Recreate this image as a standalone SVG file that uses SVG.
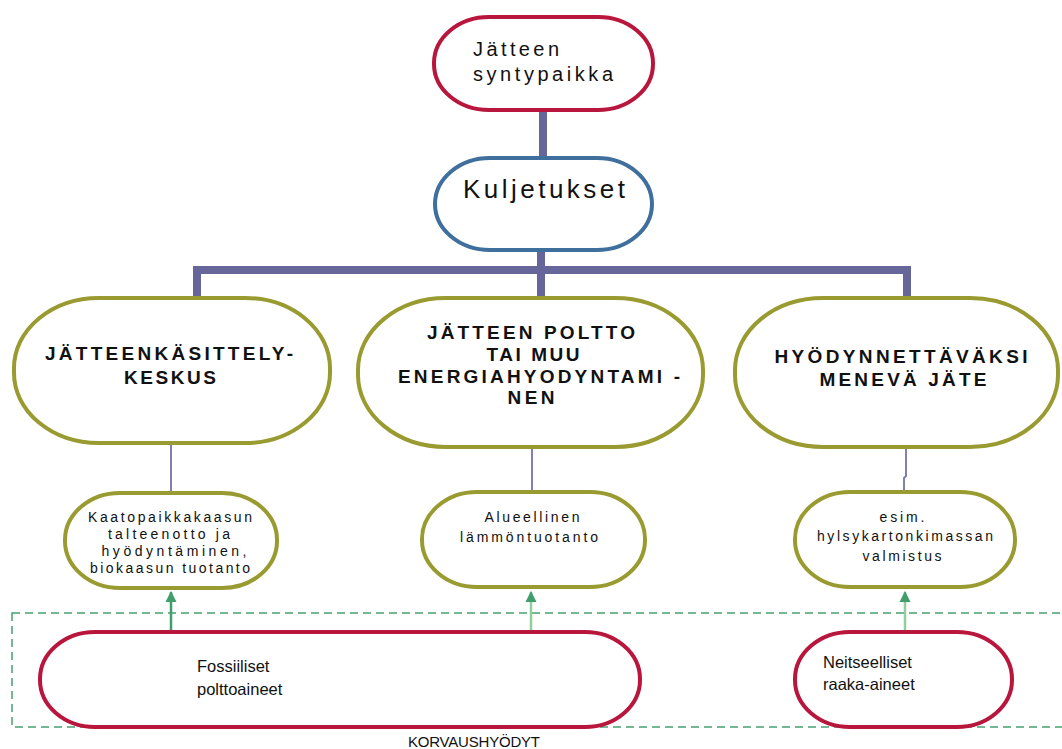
<svg xmlns="http://www.w3.org/2000/svg" width="1062" height="749" viewBox="0 0 1062 749">
<style>
  .red{fill:#fff;stroke:#b8163c;stroke-width:4}
  .blue{fill:#fff;stroke:#3f6f9c;stroke-width:4}
  .olive{fill:#fff;stroke:#999a30;stroke-width:4}
  .thick{stroke:#66669a;stroke-width:8;fill:none}
  .thin{stroke:#8080b4;stroke-width:2;fill:none}
  .arr{stroke:#3f9e6c;stroke-width:2.5;fill:none}
  .arrL{stroke:#8fcf9f;stroke-width:2.5;fill:none}
  .t{font-family:"Liberation Sans",Arial,sans-serif;fill:#111}
  .b{font-family:"Liberation Sans",Arial,sans-serif;font-weight:bold;fill:#111;font-size:19px;text-anchor:middle}
  .s{font-family:"Liberation Sans",Arial,sans-serif;fill:#111;font-size:14px;text-anchor:middle}
</style>
<defs>
  <marker id="ah" viewBox="0 0 10 10" refX="9" refY="5" markerWidth="11" markerHeight="12" markerUnits="userSpaceOnUse" orient="auto">
    <path d="M0,0 L10,5 L0,10 z" fill="#3f9e6c"/>
  </marker>
</defs>

<rect x="12" y="613" width="1060" height="114" fill="none" stroke="#4aa070" stroke-width="1.5" stroke-dasharray="8,5"/>

<g id="connectors">
  <line class="thick" x1="543" y1="110" x2="543" y2="160"/>
  <line class="thick" x1="541" y1="248" x2="541" y2="298"/>
  <polyline class="thick" points="197,298 197,270 907,270 907,298"/>
  <line class="thin" x1="171" y1="443" x2="171" y2="494"/>
  <line class="thin" x1="532" y1="447" x2="532" y2="493"/>
  <polyline class="thin" points="906,447 906,476 904,478 904,493"/>
  <line class="arr" x1="171" y1="632" x2="171" y2="592" marker-end="url(#ah)"/>
  <line class="arrL" x1="531" y1="632" x2="531" y2="592" marker-end="url(#ah)"/>
  <line class="arrL" x1="905" y1="632" x2="905" y2="592" marker-end="url(#ah)"/>
</g>

<g id="n-syntypaikka">
  <rect class="red" x="434" y="17" width="219" height="93" rx="55" ry="46"/>
  <text class="t" x="473" y="56" font-size="20" textLength="86" lengthAdjust="spacing">Jätteen</text>
  <text class="t" x="473" y="81" font-size="20" textLength="140" lengthAdjust="spacing">syntypaikka</text>
</g>

<g id="n-kuljetukset">
  <rect class="blue" x="435" y="158" width="217" height="92" rx="55" ry="46"/>
  <text class="t" x="463" y="198" font-size="26" textLength="162" lengthAdjust="spacing">Kuljetukset</text>
</g>

<g id="n-kasittely">
  <rect class="olive" x="14" y="298" width="316" height="145" rx="85" ry="70"/>
  <text class="b" x="169" y="360" textLength="248" lengthAdjust="spacing">JÄTTEENKÄSITTELY-</text>
  <text class="b" x="170" y="384" textLength="92" lengthAdjust="spacing">KESKUS</text>
</g>

<g id="n-poltto">
  <rect class="olive" x="358" y="298" width="345" height="149" rx="88" ry="72"/>
  <text class="b" x="531" y="339" textLength="208" lengthAdjust="spacing">JÄTTEEN POLTTO</text>
  <text class="b" x="533" y="361" textLength="93" lengthAdjust="spacing">TAI MUU</text>
  <text class="b" x="539" y="383" textLength="282" lengthAdjust="spacing">ENERGIAHYODYNTAMI -</text>
  <text class="b" x="531" y="404" textLength="47" lengthAdjust="spacing">NEN</text>
</g>

<g id="n-hyodynnettavaksi">
  <rect class="olive" x="735" y="298" width="323" height="149" rx="88" ry="72"/>
  <text class="b" x="901" y="363" textLength="253" lengthAdjust="spacing">HYÖDYNNETTÄVÄKSI</text>
  <text class="b" x="903" y="386" textLength="167" lengthAdjust="spacing">MENEVÄ JÄTE</text>
</g>

<g id="n-kaatopaikka">
  <rect class="olive" x="65" y="493" width="212" height="95" rx="55" ry="47"/>
  <text class="s" x="170" y="522" textLength="164" lengthAdjust="spacing">Kaatopaikkakaasun</text>
  <text class="s" x="169" y="539" textLength="122" lengthAdjust="spacing">talteenotto ja</text>
  <text class="s" x="174" y="556" textLength="145" lengthAdjust="spacing">hyödyntäminen,</text>
  <text class="s" x="170" y="573" textLength="160" lengthAdjust="spacing">biokaasun tuotanto</text>
</g>

<g id="n-lammontuotanto">
  <rect class="olive" x="422" y="492" width="223" height="95" rx="55" ry="47"/>
  <text class="s" x="532" y="522" textLength="95" lengthAdjust="spacing">Alueellinen</text>
  <text class="s" x="529" y="542" textLength="138" lengthAdjust="spacing">lämmöntuotanto</text>
</g>

<g id="n-hylsykartonki">
  <rect class="olive" x="795" y="492" width="220" height="95" rx="55" ry="47"/>
  <text class="s" x="902" y="522" textLength="45" lengthAdjust="spacing">esim.</text>
  <text class="s" x="905" y="541" textLength="176" lengthAdjust="spacing">hylsykartonkimassan</text>
  <text class="s" x="902" y="561" textLength="79" lengthAdjust="spacing">valmistus</text>
</g>

<g id="n-fossiiliset">
  <rect class="red" x="40" y="632" width="600" height="95" rx="55" ry="47"/>
  <text class="t" x="197" y="672" font-size="16.5">Fossiiliset</text>
  <text class="t" x="197" y="695" font-size="16.5">polttoaineet</text>
</g>

<g id="n-neitseelliset">
  <rect class="red" x="795" y="632" width="217" height="95" rx="55" ry="47"/>
  <text class="t" x="823" y="668" font-size="16.5">Neitseelliset</text>
  <text class="t" x="823" y="690" font-size="16.5">raaka-aineet</text>
</g>

<text class="t" x="408" y="747" font-size="15" textLength="132" lengthAdjust="spacing">KORVAUSHYÖDYT</text>
</svg>
